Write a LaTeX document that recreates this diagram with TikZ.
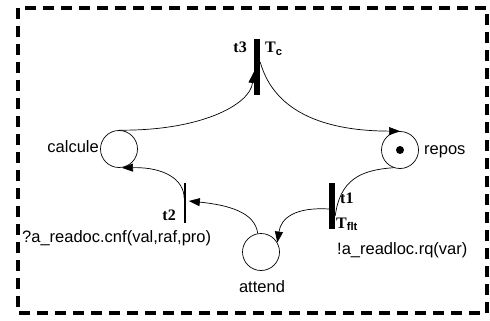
\documentclass[tikz,border=0pt]{standalone}
\usepackage{fontspec}
\setmainfont{Liberation Sans}
\newfontfamily\serifbf{Liberation Serif}[BoldFont={Liberation Serif Bold}]
\usetikzlibrary{arrows.meta}
\begin{document}
\begin{tikzpicture}[x=1pt,y=-1pt,
  place/.style={draw,circle,minimum size=37pt,inner sep=0pt,line width=0.7pt},
  thickbar/.style={fill=black,draw=none,minimum width=6pt,inner sep=0pt},
  thinbar/.style={draw=none,fill=black,minimum width=1.3pt,inner sep=0pt},
  arc/.style={line width=0.7pt},
  arr/.style={arc,-{Triangle[length=11pt,width=8pt]}},
  lbl/.style={font=\fontsize{16.5}{18}\selectfont,inner sep=0pt},
  tlbl/.style={font=\serifbf\bfseries\fontsize{16}{18}\selectfont,inner sep=0pt},
  frame/.style={line width=4.5pt,dash pattern=on 11pt off 7pt}]
\useasboundingbox (0,0) rectangle (490,321);
\draw[frame] (18,8) rectangle (487,313);
% places
\node[place] (calcule) at (119,149) {};
\node[place] (repos) at (400,150) {};
\fill (repos.center) circle (4pt);
\node[place] (attend) at (261,252) {};
% transitions
\node[thickbar,minimum height=55pt] (t3) at (257,67) {};
\node[thickbar,minimum height=46pt] (t1) at (332,206) {};
\node[thinbar,minimum height=40pt] (t2) at (185,203) {};
% labels
\node[lbl,anchor=east] (lcal) at (99,147) {calcule};
\node[lbl,anchor=west] (lrep) at (424,152) {repos};
\node[lbl,anchor=north] (latt) at (262,280) {attend};
\node[lbl,anchor=base west] (lcnf) at (22,242) {?a\_readoc.cnf(val,raf,pro)};
\node[lbl,anchor=base west] (lrq) at (337,254) {!a\_readloc.rq(var)};
\node[tlbl,anchor=base east] (lt3) at (247,53) {t3};
\node[tlbl,anchor=base west] (lTc) at (265,53) {T$_{\mathbf c}$};
\node[tlbl,anchor=base west] (lt1) at (340,203) {t1};
\node[tlbl,anchor=base west] (lTf) at (336,228) {T$_{\mathbf{flt}}$};
\node[tlbl,anchor=base east] (lt2) at (176,220) {t2};
% arcs
\coordinate (t3in) at ([yshift=-5pt]t3.west);
\coordinate (t3out) at ([yshift=5pt]t3.east);
\coordinate (t1in) at ([yshift=-10pt]t1.east);
\coordinate (t1out) at ([yshift=-3pt]t1.west);
\coordinate (t2in) at ([xshift=3pt,yshift=2pt]t2.east);
\coordinate (t2out) at ([yshift=5pt]t2.west);
\draw[arr] (calcule.north) .. controls (200,131) and (250,105) .. (t3in);
\draw[arr] (t3out) .. controls (275,115) and (330,131) .. (repos.north);
\draw[arc] (repos.-110) .. controls (360,170) and (340,180) .. (t1in);
\draw[arr] (t1out) .. controls (295,207) and (281,218) .. (attend.30);
\draw[arr] (attend.100) .. controls (255,212) and (228,205) .. (t2in);
\draw[arr] (t2out) .. controls (184,180) and (165,167) .. ([xshift=3pt]calcule.south);
\end{tikzpicture}
\end{document}
